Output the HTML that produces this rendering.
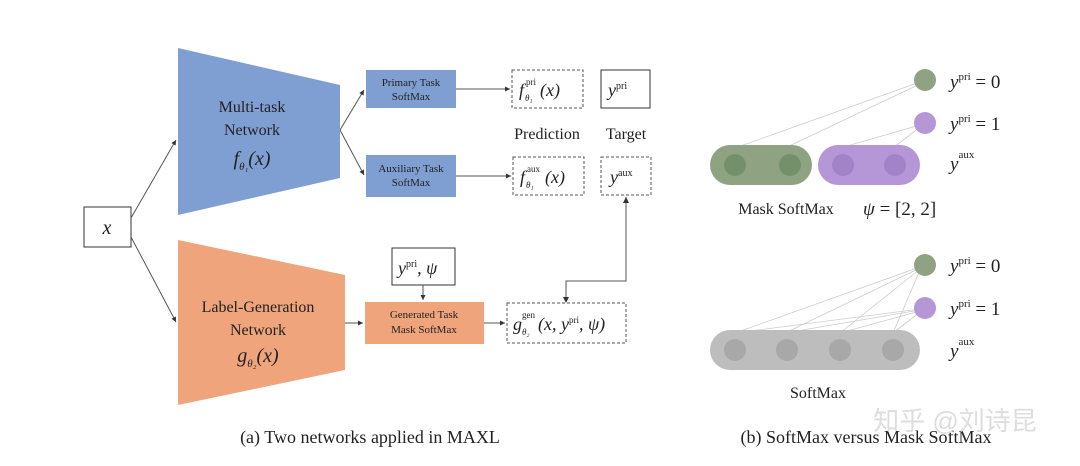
<!DOCTYPE html>
<html><head><style>body{margin:0;background:#fff}svg{display:block}text{font-family:"Liberation Serif",serif;fill:#222}</style></head><body>
<svg width="1080" height="466" viewBox="0 0 1080 466" xmlns="http://www.w3.org/2000/svg">
<defs><marker id="a" markerWidth="6" markerHeight="6" refX="5" refY="3" orient="auto"><path d="M0,0.5 L5,3 L0,5.5z" fill="#333"/></marker></defs>
<rect width="1080" height="466" fill="#fff"/>
<rect x="84" y="207" width="47" height="40" fill="#fff" stroke="#333"/>
<text x="107" y="234" font-size="20" font-style="italic" text-anchor="middle">x</text>
<g stroke="#555" fill="none" stroke-width="1">
<line x1="131" y1="218" x2="176" y2="140" marker-end="url(#a)"/>
<line x1="131" y1="237" x2="176" y2="322" marker-end="url(#a)"/>
<line x1="340" y1="130" x2="364" y2="90" marker-end="url(#a)"/>
<line x1="340" y1="130" x2="364" y2="175" marker-end="url(#a)"/>
<line x1="456" y1="89" x2="510" y2="89" marker-end="url(#a)"/>
<line x1="456" y1="176" x2="511" y2="176" marker-end="url(#a)"/>
<line x1="345" y1="323" x2="363" y2="323" marker-end="url(#a)"/>
<line x1="484" y1="323" x2="505" y2="323" marker-end="url(#a)"/>
<line x1="423" y1="285" x2="423" y2="300" marker-end="url(#a)"/>
<polyline points="566,301 566,281 626,281 626,197" />
</g>
<path d="M626,197 l-3,6 h6z" fill="#333"/><path d="M566,303 l-3,-6 h6z" fill="#333"/>
<polygon points="178,48 340,85 340,178 178,215" fill="#7f9fd3"/>
<polygon points="178,240 345,275 345,370 178,405" fill="#f0a47c"/>
<text x="252" y="112" font-size="16" text-anchor="middle">Multi-task</text>
<text x="252" y="135" font-size="16" text-anchor="middle">Network</text>
<text x="252" y="165" font-size="20" font-style="italic" text-anchor="middle">f<tspan font-size="11" dy="5">θ₁</tspan><tspan dy="-5">(x)</tspan></text>
<text x="258" y="312" font-size="16" text-anchor="middle">Label-Generation</text>
<text x="258" y="335" font-size="16" text-anchor="middle">Network</text>
<text x="258" y="362" font-size="20" font-style="italic" text-anchor="middle">g<tspan font-size="11" dy="5">θ₂</tspan><tspan dy="-5">(x)</tspan></text>
<rect x="366" y="70" width="90" height="38" fill="#7f9fd3"/>
<text x="411" y="86" font-size="11" text-anchor="middle">Primary Task</text><text x="411" y="100" font-size="11" text-anchor="middle">SoftMax</text>
<rect x="366" y="155" width="90" height="42" fill="#7f9fd3"/>
<text x="411" y="172" font-size="11" text-anchor="middle">Auxiliary Task</text><text x="411" y="186" font-size="11" text-anchor="middle">SoftMax</text>
<rect x="365" y="302" width="119" height="42" fill="#f0a47c"/>
<text x="424" y="318" font-size="11" text-anchor="middle">Generated Task</text><text x="424" y="333" font-size="11" text-anchor="middle">Mask SoftMax</text>
<g fill="#fff" stroke="#555" stroke-dasharray="3,2">
<rect x="512" y="70" width="71" height="38"/><rect x="513" y="157" width="71" height="38"/>
<rect x="601" y="157" width="50" height="38"/><rect x="507" y="303" width="119" height="40"/></g>
<rect x="601" y="70" width="49" height="38" fill="#fff" stroke="#333"/>
<rect x="392" y="248" width="63" height="37" fill="#fff" stroke="#333"/>
<g font-style="italic" font-size="18">
<text x="519" y="96">f</text><text x="525" y="101" font-size="9">θ₁</text><text x="526" y="85" font-size="9" font-style="normal">pri</text><text x="540" y="96">(x)</text>
<text x="520" y="183">f</text><text x="526" y="188" font-size="9">θ₁</text><text x="527" y="172" font-size="9" font-style="normal">aux</text><text x="545" y="183">(x)</text>
<text x="608" y="96">y<tspan font-size="10" font-style="normal" dy="-7">pri</tspan></text>
<text x="610" y="183">y<tspan font-size="10" font-style="normal" dy="-7">aux</tspan></text>
<text x="398" y="274">y<tspan font-size="10" font-style="normal" dy="-7">pri</tspan><tspan dy="7">, ψ</tspan></text>
<text x="513" y="330">g</text><text x="522" y="335" font-size="9">θ₂</text><text x="522" y="318" font-size="9" font-style="normal">gen</text>
<text x="538" y="330">(x, y<tspan font-size="9" font-style="normal" dy="-7">pri</tspan><tspan dy="7">, ψ)</tspan></text>
</g>
<text x="547" y="139" font-size="16" text-anchor="middle">Prediction</text>
<text x="626" y="139" font-size="16" text-anchor="middle">Target</text>
<g stroke="#ccc" stroke-width="0.8">
<line x1="735" y1="148" x2="920" y2="82"/><line x1="785" y1="148" x2="920" y2="84"/>
<line x1="840" y1="148" x2="920" y2="125"/><line x1="893" y1="148" x2="920" y2="127"/>
<line x1="735" y1="333" x2="920" y2="267"/><line x1="785" y1="333" x2="920" y2="268"/><line x1="840" y1="333" x2="920" y2="269"/><line x1="893" y1="333" x2="920" y2="270"/>
<line x1="735" y1="333" x2="920" y2="309"/><line x1="785" y1="333" x2="920" y2="310"/><line x1="840" y1="333" x2="920" y2="311"/><line x1="893" y1="333" x2="920" y2="312"/>
</g>
<circle cx="925" cy="80" r="11" fill="#8fa383"/><circle cx="925" cy="123" r="11" fill="#b596d6"/>
<circle cx="925" cy="265" r="11" fill="#8fa383"/><circle cx="925" cy="308" r="11" fill="#b596d6"/>
<rect x="710" y="145" width="102" height="40" rx="20" fill="#8fa383"/>
<rect x="818" y="145" width="102" height="40" rx="20" fill="#b596d6"/>
<rect x="710" y="330" width="210" height="40" rx="20" fill="#bdbdbd"/>
<g fill="#74906b"><circle cx="735" cy="165" r="11"/><circle cx="790" cy="165" r="11"/></g>
<g fill="#a383c8"><circle cx="843" cy="165" r="11"/><circle cx="895" cy="165" r="11"/></g>
<g fill="#a8a8a8"><circle cx="735" cy="350" r="11"/><circle cx="787" cy="350" r="11"/><circle cx="840" cy="350" r="11"/><circle cx="893" cy="350" r="11"/></g>
<g font-size="19"><text x="950" y="88"><tspan font-style="italic">y</tspan><tspan font-size="11" dy="-8">pri</tspan><tspan dy="8"> = 0</tspan></text>
<text x="950" y="130"><tspan font-style="italic">y</tspan><tspan font-size="11" dy="-8">pri</tspan><tspan dy="8"> = 1</tspan></text>
<text x="950" y="170"><tspan font-style="italic">y</tspan><tspan font-size="11" dy="-12">aux</tspan></text>
<text x="950" y="272"><tspan font-style="italic">y</tspan><tspan font-size="11" dy="-8">pri</tspan><tspan dy="8"> = 0</tspan></text>
<text x="950" y="315"><tspan font-style="italic">y</tspan><tspan font-size="11" dy="-8">pri</tspan><tspan dy="8"> = 1</tspan></text>
<text x="950" y="357"><tspan font-style="italic">y</tspan><tspan font-size="11" dy="-12">aux</tspan></text>
<text x="863" y="215"><tspan font-style="italic">ψ</tspan> = [2, 2]</text></g>
<text x="786" y="214" font-size="16" text-anchor="middle">Mask SoftMax</text>
<text x="818" y="398" font-size="16" text-anchor="middle">SoftMax</text>
<text x="370" y="443" font-size="18" text-anchor="middle">(a) Two networks applied in MAXL</text>
<text x="866" y="443" font-size="18" text-anchor="middle">(b) SoftMax versus Mask SoftMax</text>
<text x="955" y="430" font-size="26" text-anchor="middle" style="fill:#ddd;font-family:'Liberation Sans','Noto Sans CJK SC',sans-serif">知乎 @刘诗昆</text>
</svg></body></html>
